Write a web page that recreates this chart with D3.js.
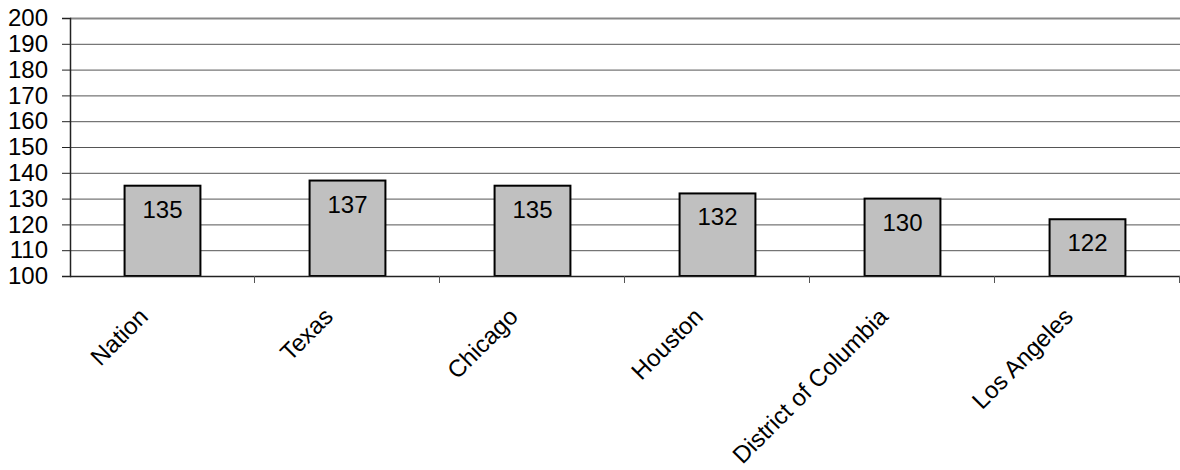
<!DOCTYPE html>
<html>
<head>
<meta charset="utf-8">
<script src="https://cdn.jsdelivr.net/npm/d3@7"></script>
<style>
  body { margin: 0; background: #fff; }
  text { font-family: "Liberation Sans", Arial, sans-serif; }
</style>
</head>
<body>
<svg id="chart" width="1180" height="470"></svg>
<script>
const categories = ["Nation", "Texas", "Chicago", "Houston", "District of Columbia", "Los Angeles"];
const values = [135, 137, 135, 132, 130, 122];
const yTicks = [100, 110, 120, 130, 140, 150, 160, 170, 180, 190, 200];

const margin = { top: 18, right: 0, bottom: 194, left: 70 },
  W = 1180, H = 470,
  w = W - margin.left - margin.right,
  h = H - margin.top - margin.bottom;

const svg = d3.select("#chart")
  .append("g")
  .attr("transform", "translate(" + margin.left + "," + margin.top + ")");

const x = d3.scaleBand().domain(categories).range([0, w]).paddingInner(0.59).paddingOuter(0.295);
const xTick = d3.scaleLinear().domain([0, categories.length]).range([0, w]);
const y = d3.scaleLinear().domain([100, 200]).range([h, 0]);

// gridlines
svg.append("g")
  .selectAll("line")
  .data(yTicks.filter(d => d > 100))
  .enter()
  .append("line")
  .attr("x1", 0)
  .attr("x2", w)
  .attr("y1", d => y(d) + 0.5)
  .attr("y2", d => y(d) + 0.5)
  .attr("stroke", d => d === 200 ? "#888" : "#555")
  .attr("stroke-width", d => d === 200 ? 2 : 1);

// y axis
const gY = svg.append("g")
  .call(d3.axisLeft(y).tickValues(yTicks).tickSize(8).tickPadding(14).tickFormat(d3.format("d")));
gY.select(".domain").attr("stroke", "#222").attr("stroke-width", 1.5);
gY.selectAll(".tick line").attr("stroke", "#222");
gY.selectAll(".tick text")
  .attr("font-size", 24)
  .attr("fill", "#000")
  .style("font-family", "'Liberation Sans', Arial, sans-serif");

// bars
svg.selectAll(".bar")
  .data(values)
  .enter()
  .append("rect")
  .attr("class", "bar")
  .attr("x", (d, i) => x(categories[i]))
  .attr("y", d => y(d))
  .attr("width", x.bandwidth())
  .attr("height", d => h - y(d))
  .attr("fill", "#c0c0c0")
  .attr("stroke", "#000")
  .attr("stroke-width", 2);

// x axis line + ticks
svg.append("line")
  .attr("x1", 0).attr("x2", w)
  .attr("y1", h + 0.5).attr("y2", h + 0.5)
  .attr("stroke", "#222").attr("stroke-width", 1.5);
svg.append("g")
  .selectAll("line")
  .data(d3.range(1, categories.length + 1))
  .enter()
  .append("line")
  .attr("x1", d => xTick(d) - 0.5)
  .attr("x2", d => xTick(d) - 0.5)
  .attr("y1", h)
  .attr("y2", h + 7)
  .attr("stroke", "#555");

// value labels
svg.selectAll(".val")
  .data(values)
  .enter()
  .append("text")
  .attr("x", (d, i) => x(categories[i]) + x.bandwidth() / 2)
  .attr("y", d => y(d) + 32)
  .attr("text-anchor", "middle")
  .attr("font-size", 24)
  .attr("fill", "#000")
  .text(d => d);

// category labels
svg.selectAll(".cat")
  .data(categories)
  .enter()
  .append("text")
  .attr("transform", d => "translate(" + (x(d) + x.bandwidth() / 2 - 13) + "," + (h + 42) + ") rotate(-45)")
  .attr("text-anchor", "end")
  .attr("font-size", 24)
  .attr("fill", "#000")
  .text(d => d);
</script>
</body>
</html>
